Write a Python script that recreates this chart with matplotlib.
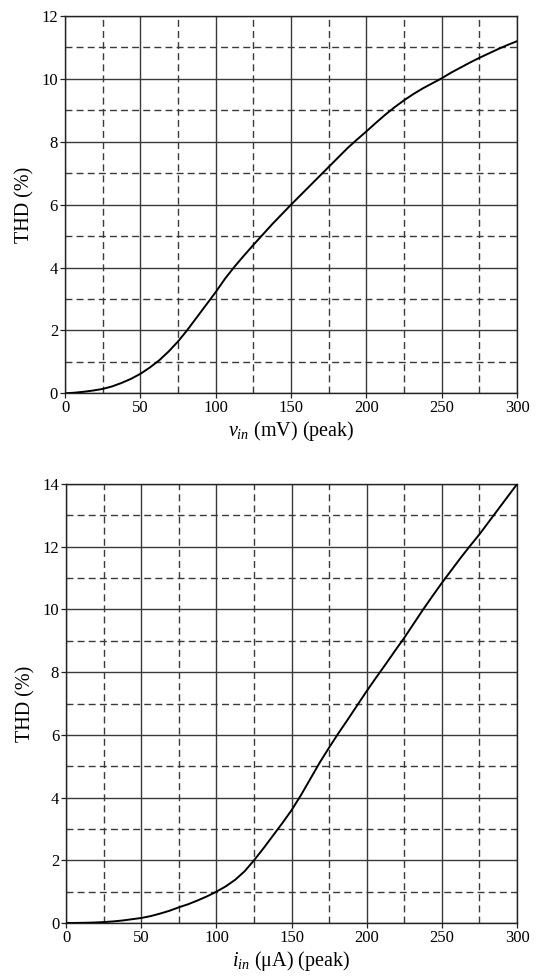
import matplotlib
matplotlib.use("Agg")
import matplotlib.pyplot as plt

plt.rcParams['font.family'] = ['Liberation Serif', 'DejaVu Serif']
plt.rcParams['mathtext.fontset'] = 'custom'
plt.rcParams['mathtext.rm'] = 'Liberation Serif'
plt.rcParams['mathtext.it'] = 'Liberation Serif:italic'

# Top chart: THD (%) vs input voltage v_in (mV, peak)
vin_mv = [0, 6.25, 12.5, 18.75, 25, 31.25, 37.5, 43.75, 50, 56.25, 62.5, 68.75,
          75, 81.25, 87.5, 93.75, 100, 106.25, 112.5, 118.75, 125, 131.25,
          137.5, 143.75, 150, 156.25, 162.5, 168.75, 175, 181.25, 187.5, 193.75,
          200, 206.25, 212.5, 218.75, 225, 231.25, 237.5, 243.75, 250, 256.25,
          262.5, 268.75, 275, 281.25, 287.5, 293.75, 300]
thd_v = [0, 0.02, 0.05, 0.09, 0.14, 0.22, 0.33, 0.46, 0.62, 0.82, 1.05, 1.33,
         1.65, 2.02, 2.42, 2.82, 3.22, 3.65, 4.03, 4.38, 4.72, 5.05,
         5.38, 5.69, 6.0, 6.3, 6.6, 6.9, 7.2, 7.5, 7.8, 8.07,
         8.33, 8.6, 8.86, 9.1, 9.32, 9.52, 9.7, 9.86, 10.02, 10.2,
         10.36, 10.52, 10.67, 10.81, 10.95, 11.08, 11.2]

# Bottom chart: THD (%) vs input current i_in (uA, peak)
iin_ua = [0, 6.25, 12.5, 18.75, 25, 31.25, 37.5, 43.75, 50, 56.25, 62.5, 68.75,
          75, 81.25, 87.5, 93.75, 100, 106.25, 112.5, 118.75, 125, 131.25,
          137.5, 143.75, 150, 156.25, 162.5, 168.75, 175, 181.25, 187.5, 193.75,
          200, 206.25, 212.5, 218.75, 225, 231.25, 237.5, 243.75, 250, 256.25,
          262.5, 268.75, 275, 281.25, 287.5, 293.75, 300]
thd_i = [0, 0.002, 0.007, 0.015, 0.03, 0.05, 0.08, 0.12, 0.16, 0.22, 0.3, 0.39,
         0.5, 0.6, 0.72, 0.85, 1.0, 1.17, 1.38, 1.65, 2.0, 2.38,
         2.78, 3.18, 3.6, 4.08, 4.6, 5.12, 5.6, 6.06, 6.5, 6.95,
         7.4, 7.83, 8.25, 8.68, 9.1, 9.55, 10.0, 10.43, 10.85, 11.25,
         11.65, 12.03, 12.4, 12.8, 13.2, 13.6, 14.0]

x_major = [0, 50, 100, 150, 200, 250, 300]
x_minor = [25, 75, 125, 175, 225, 275]
top_y_major = [0, 2, 4, 6, 8, 10, 12]
top_y_minor = [1, 3, 5, 7, 9, 11]
bot_y_major = [0, 2, 4, 6, 8, 10, 12, 14]
bot_y_minor = [1, 3, 5, 7, 9, 11, 13]

fig = plt.figure(figsize=(5.42, 9.76), dpi=100)
ax1 = fig.add_axes([0.120, 0.597, 0.834, 0.3866])
ax2 = fig.add_axes([0.122, 0.0543, 0.832, 0.4497])

gcol = '#3a3a3a'

def style(ax, ymax, ymaj, ymin, xlabel):
    ax.set_xlim(0, 300)
    ax.set_ylim(0, ymax)
    ax.set_xticks(x_major)
    ax.set_xticks(x_minor, minor=True)
    ax.set_yticks(ymaj)
    ax.set_yticks(ymin, minor=True)
    ax.grid(which='major', color=gcol, linewidth=1.0, linestyle='-')
    ax.grid(which='minor', color=gcol, linewidth=1.0, linestyle=(0, (5, 3)))
    ax.tick_params(which='major', direction='out', length=3.5, width=0.9,
                   labelsize=12, pad=1.5, color='#222222')
    ax.tick_params(which='minor', length=0)
    for s in ax.spines.values():
        s.set_color('#222222')
        s.set_linewidth(1.0)
    ax.set_axisbelow(True)
    ax.set_ylabel('THD (%)', fontsize=14.5, labelpad=5)
    ax.set_xlabel(xlabel, fontsize=14.5, labelpad=2)

ax1.plot(vin_mv, thd_v, color='black', linewidth=1.4, zorder=3)
style(ax1, 12, top_y_major, top_y_minor, r'$v_{in}$ (mV) (peak)')

ax2.plot(iin_ua, thd_i, color='black', linewidth=1.4, zorder=3)
style(ax2, 14, bot_y_major, bot_y_minor, r'$i_{in}$ (μA) (peak)')

fig.savefig('out.png', dpi=100)
